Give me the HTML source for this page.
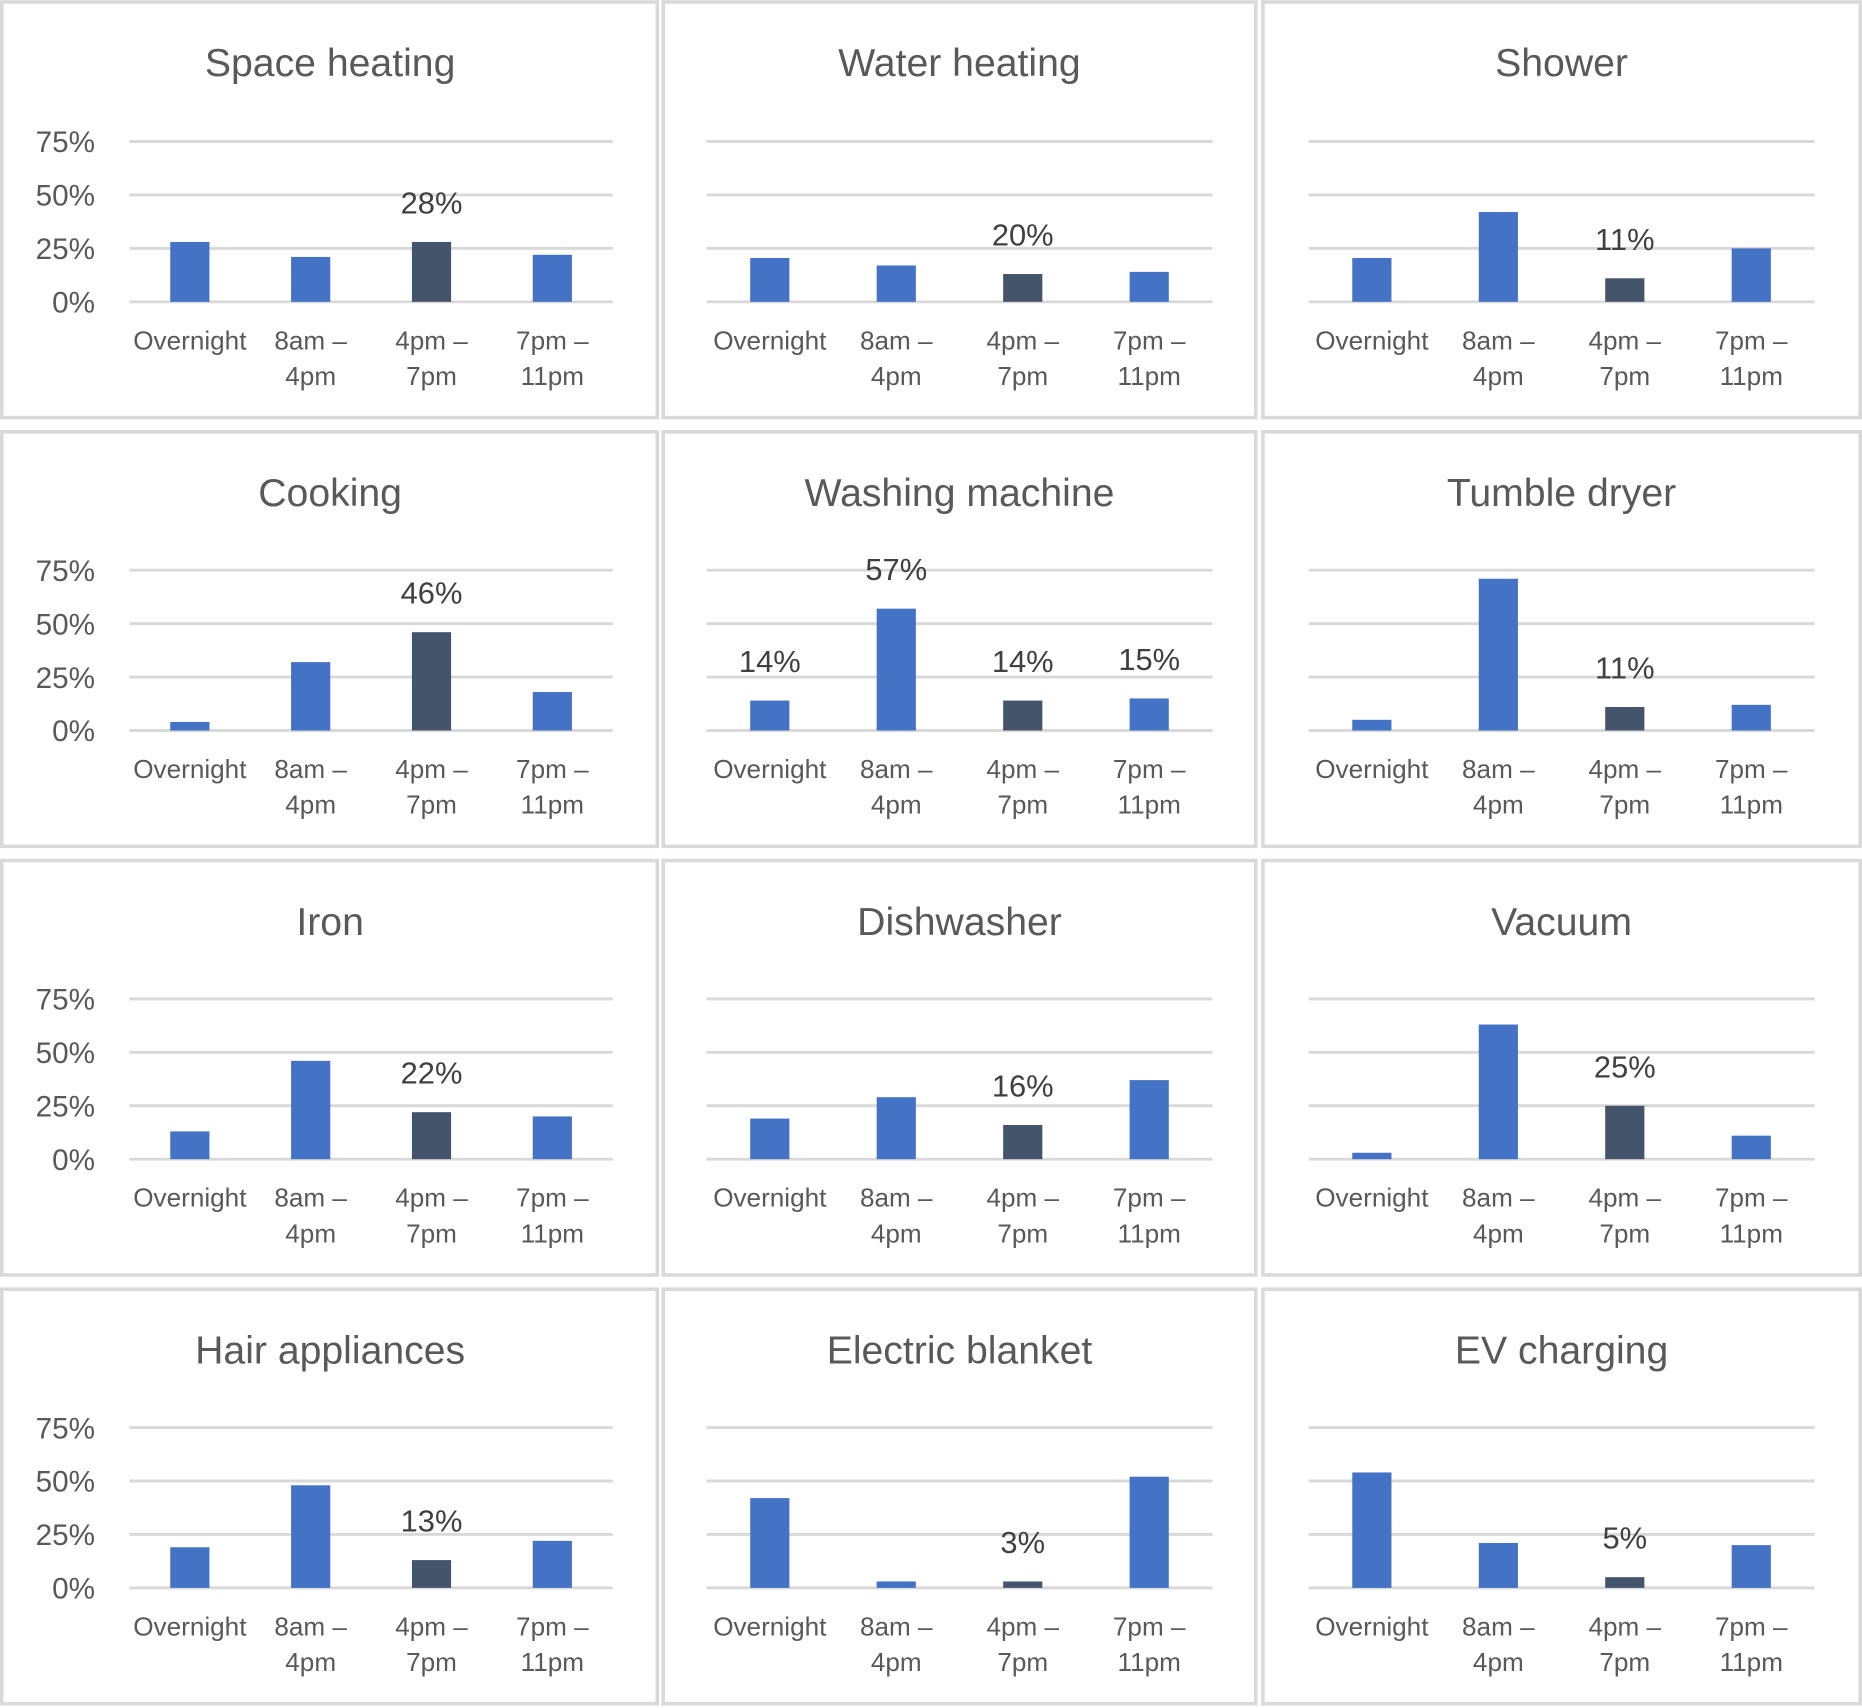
<!DOCTYPE html>
<html><head><meta charset="utf-8"><style>
html,body{margin:0;padding:0;background:#fff;}
svg{display:block;font-family:"Liberation Sans",sans-serif;}
</style></head><body>
<svg id="chart" width="1862" height="1708" viewBox="0 0 1568 1438" xmlns="http://www.w3.org/2000/svg"></svg>
<script>
const titles = ["Space heating","Water heating","Shower","Cooking","Washing machine","Tumble dryer","Iron","Dishwasher","Vacuum","Hair appliances","Electric blanket","EV charging"];
const categories = [["Overnight"],["8am –","4pm"],["4pm –","7pm"],["7pm –","11pm"]];
const yTicks = [0,25,50,75];
const yTickLabels = ["0%","25%","50%","75%"];
const values = [
 [28,21,28,22],[20.5,17,13,14],[20.5,42,11,25],
 [4,32,46,18],[14,57,14,15],[5,71,11,12],
 [13,46,22,20],[19,29,16,37],[3,63,25,11],
 [19,48,13,22],[42,3,3,52],[54,21,5,20]];
const labels = [
 [null,null,"28%",null],[null,null,"20%",null],[null,null,"11%",null],
 [null,null,"46%",null],["14%","57%","14%","15%"],[null,null,"11%",null],
 [null,null,"22%",null],[null,null,"16%",null],[null,null,"25%",null],
 [null,null,"13%",null],[null,null,"3%",null],[null,null,"5%",null]];

const svg=document.getElementById('chart');
const NS="http://www.w3.org/2000/svg";
function mk(t,a,p){const e=document.createElementNS(NS,t);for(const k in a)e.setAttribute(k,a[k]);(p||svg).appendChild(e);return e;}
const colX=[[0,555],[557,1059],[1062,1568]];
const rowY=[[0,353],[362,714],[723,1075],[1084,1436]];
const plotX=[[109,516],[595,1021],[1102,1528]];
function yScale(v,base){return base - v*1.8;}
for(let i=0;i<12;i++){
  const c=i%3,r=Math.floor(i/3);
  const g=mk('g',{});
  
  
  const [x0,x1]=colX[c],[y0,y1]=rowY[r];
  const bg=mk('rect',{x:x0+1.5,y:y0+1.5,width:x1-x0-3,height:y1-y0-3,fill:'#fff',stroke:'#d9d9d9','stroke-width':3},g);
  
  const [px0,px1]=plotX[c];
  const base=254+r*361;
  const t=mk('text',{x:c==0?278:(px0+px1)/2,y:y0+64,'text-anchor':'middle','font-size':33,fill:'#595959'},g);
  t.textContent=titles[i];
  
  yTicks.forEach((v,k)=>{
    const y=yScale(v,base);
    const l=mk('line',{x1:px0,x2:px1,y1:y,y2:y,stroke:'#d9d9d9','stroke-width':2.5},g);
    
    if(c==0){
      const tl=mk('text',{x:80,y:y+9,'text-anchor':'end','font-size':25,fill:'#595959'},g);
      tl.textContent=yTickLabels[k];
      
    }
  });
  const step=(px1-px0)/4;
  values[i].forEach((v,k)=>{
    const cx=px0+step*(k+0.5);
    const y=yScale(v,base);
    const b=mk('rect',{x:cx-16.5,y:y,width:33,height:base-y,fill:k==2?'#44546a':'#4472c4'},g);
    
    if(labels[i][k]){
      const dl=mk('text',{x:cx,y:y-24,'text-anchor':'middle','font-size':26,fill:'#404040'},g);
      dl.textContent=labels[i][k];
      
    }
    categories[k].forEach((s,j)=>{
      const ct=mk('text',{x:cx,y:base+40+j*30,'text-anchor':'middle','font-size':22,fill:'#595959'},g);
      ct.textContent=s;
      
    });
  });
}
</script>
</body></html>
